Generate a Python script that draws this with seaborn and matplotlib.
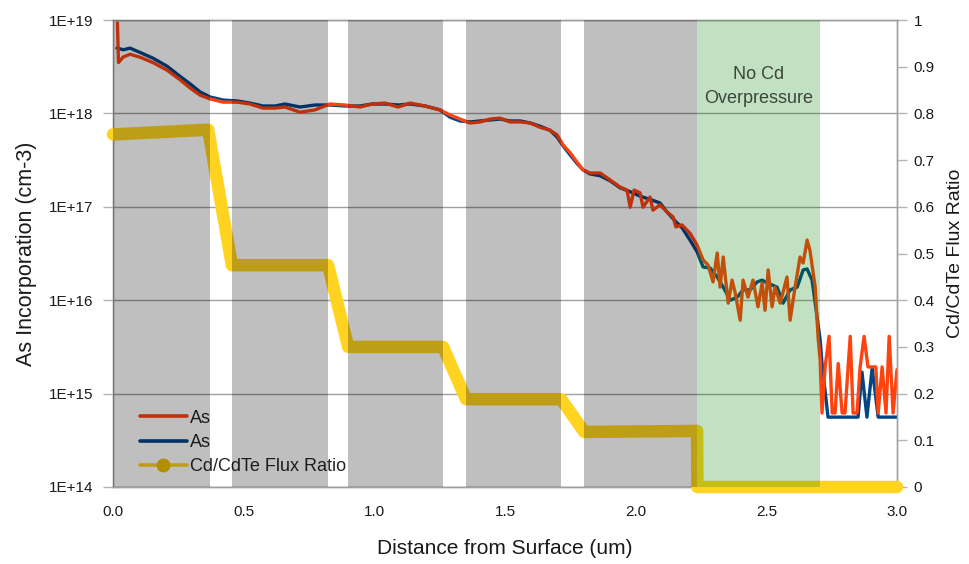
import math
import matplotlib
matplotlib.use("Agg")
import matplotlib.pyplot as plt
from matplotlib.ticker import FixedLocator, FuncFormatter, NullLocator
from matplotlib.lines import Line2D
import pandas as pd
import seaborn as sns

# ---------------- data ----------------
depth_as_orange = [0.017, 0.021, 0.038, 0.065, 0.103, 0.153, 0.207, 0.256, 0.295, 0.333,
                   0.371, 0.421, 0.475, 0.524, 0.574, 0.620, 0.658, 0.716, 0.773, 0.830,
                   0.888, 0.945, 0.991, 1.041, 1.091, 1.137, 1.194, 1.251, 1.290, 1.328,
                   1.366, 1.405, 1.443, 1.481, 1.519, 1.558, 1.596, 1.634, 1.672, 1.699,
                   1.722, 1.749, 1.776, 1.799, 1.825, 1.864, 1.902, 1.940, 1.967, 1.979,
                   1.994, 2.017, 2.028, 2.055, 2.066, 2.093, 2.120, 2.143, 2.154, 2.177,
                   2.208, 2.235, 2.258, 2.277, 2.296, 2.312, 2.323, 2.335, 2.354, 2.369,
                   2.381, 2.400, 2.411, 2.430, 2.449, 2.468, 2.484, 2.495, 2.507, 2.522,
                   2.533, 2.553, 2.579, 2.591, 2.610, 2.629, 2.641, 2.656, 2.667, 2.687,
                   2.698, 2.706, 2.713, 2.725, 2.740, 2.752, 2.763, 2.775, 2.790, 2.801,
                   2.821, 2.832, 2.847, 2.859, 2.874, 2.889, 2.905, 2.919, 2.928, 2.943,
                   2.958, 2.970, 2.985, 3.000]
as_orange = [9.3e18, 3.5e18, 4.0e18, 4.3e18, 4.0e18, 3.5e18, 2.9e18, 2.3e18, 1.87e18, 1.57e18,
             1.43e18, 1.32e18, 1.32e18, 1.26e18, 1.14e18, 1.14e18, 1.17e18, 1.03e18, 1.09e18, 1.26e18,
             1.23e18, 1.17e18, 1.26e18, 1.29e18, 1.17e18, 1.29e18, 1.20e18, 1.09e18, 9.6e17, 8.7e17,
             7.9e17, 8.1e17, 8.7e17, 8.9e17, 8.1e17, 8.1e17, 7.9e17, 7.1e17, 6.6e17, 5.9e17,
             4.6e17, 3.8e17, 3.0e17, 2.48e17, 2.30e17, 2.30e17, 1.94e17, 1.63e17, 1.51e17, 9.9e16,
             1.51e17, 1.41e17, 9.9e16, 1.27e17, 9.2e16, 1.05e17, 8.8e16, 7.8e16, 6.1e16, 6.4e16,
             5.2e16, 3.9e16, 2.7e16, 2.38e16, 1.57e16, 3.2e16, 1.38e16, 2.9e16, 9.3e15, 1.64e16,
             1.19e16, 6.1e15, 1.64e16, 1.08e16, 1.64e16, 8.5e15, 1.53e16, 7.8e15, 2.11e16, 8.5e15,
             1.38e16, 9.3e15, 1.77e16, 6.1e15, 1.38e16, 2.9e16, 2.5e16, 4.4e16, 3.4e16, 1.38e16,
             4.0e15, 2.3e15, 6.2e14, 1.93e15, 4.1e15, 6.2e14, 6.2e14, 2.1e15, 6.2e14, 6.2e14,
             4.1e15, 6.2e14, 6.2e14, 1.93e15, 4.1e15, 1.93e15, 1.93e15, 1.93e15, 6.2e14, 1.93e15,
             6.2e14, 4.1e15, 6.2e14, 1.8e15]

depth_as_blue = [0.015, 0.040, 0.065, 0.103, 0.153, 0.207, 0.256, 0.295, 0.333, 0.371,
                 0.421, 0.475, 0.524, 0.574, 0.620, 0.658, 0.716, 0.773, 0.830, 0.888,
                 0.945, 0.991, 1.041, 1.091, 1.137, 1.194, 1.251, 1.290, 1.328, 1.366,
                 1.405, 1.443, 1.481, 1.519, 1.558, 1.596, 1.634, 1.672, 1.699, 1.722,
                 1.749, 1.776, 1.799, 1.825, 1.864, 1.902, 1.940, 1.979, 2.017, 2.055,
                 2.093, 2.120, 2.154, 2.177, 2.208, 2.235, 2.258, 2.285, 2.312, 2.335,
                 2.362, 2.389, 2.411, 2.438, 2.465, 2.484, 2.503, 2.541, 2.564, 2.591,
                 2.618, 2.641, 2.656, 2.675, 2.687, 2.706, 2.713, 2.736, 2.851, 2.866,
                 2.885, 2.905, 2.928, 3.000]
as_blue = [5.0e18, 4.8e18, 5.0e18, 4.5e18, 3.9e18, 3.2e18, 2.5e18, 2.07e18, 1.7e18, 1.5e18,
           1.39e18, 1.36e18, 1.29e18, 1.20e18, 1.20e18, 1.26e18, 1.17e18, 1.23e18, 1.23e18, 1.20e18,
           1.20e18, 1.26e18, 1.26e18, 1.23e18, 1.26e18, 1.20e18, 1.09e18, 9.1e17, 8.3e17, 8.1e17,
           8.3e17, 8.5e17, 8.7e17, 8.3e17, 8.3e17, 7.9e17, 7.3e17, 6.6e17, 5.6e17, 4.5e17,
           3.6e17, 2.9e17, 2.48e17, 2.25e17, 2.15e17, 1.9e17, 1.6e17, 1.45e17, 1.3e17, 1.2e17,
           1.1e17, 8.8e16, 6.9e16, 6.0e16, 4.4e16, 3.3e16, 2.27e16, 2.21e16, 1.77e16, 1.38e16,
           1.0e16, 1.08e16, 1.29e16, 1.29e16, 1.57e16, 1.64e16, 1.53e16, 1.38e16, 9.3e15, 1.29e16,
           1.38e16, 2.11e16, 2.16e16, 1.64e16, 9.3e15, 3.75e15, 2.1e15, 5.6e14, 5.6e14, 1.7e15,
           5.6e14, 1.88e15, 5.6e14, 5.6e14]

depth_ratio = [0.0, 0.364, 0.455, 0.823, 0.900, 1.263, 1.351, 1.715, 1.803, 2.235, 2.236, 3.0]
flux_ratio = [0.755, 0.765, 0.475, 0.475, 0.300, 0.300, 0.188, 0.188, 0.118, 0.120, 0.0, 0.0]

gray_band_start = [0.0, 0.455, 0.900, 1.351, 1.803]
gray_band_end = [0.371, 0.823, 1.263, 1.715, 2.235]
green_band_start = 2.235
green_band_end = 2.706

y_left_ticks = [1e14, 1e15, 1e16, 1e17, 1e18, 1e19]
y_right_ticks = [0.0, 0.1, 0.2, 0.3, 0.4, 0.5, 0.6, 0.7, 0.8, 0.9, 1.0]
x_ticks = [0.0, 0.5, 1.0, 1.5, 2.0, 2.5, 3.0]

# ---------------- style ----------------
sns.set_style("white")
plt.rcParams['font.family'] = ['Liberation Sans', 'DejaVu Sans']

c_orange = "#ff420e"
c_blue = "#004586"
c_yellow = "#ffd320"
c_axis = "#b3b3b3"
c_grid = "#a0a0a0"
c_text = "#1a1a1a"

fig = plt.figure(figsize=(9.69, 5.64), dpi=100)
ax = fig.add_axes([113 / 969, 1 - 487 / 564, (897 - 113) / 969, (487 - 20) / 564])

df_b = pd.DataFrame({"depth": depth_as_blue, "As": as_blue})
df_o = pd.DataFrame({"depth": depth_as_orange, "As": as_orange})
sns.lineplot(data=df_b, x="depth", y="As", ax=ax, color=c_blue, linewidth=2.4,
             sort=False, estimator=None, zorder=3)
sns.lineplot(data=df_o, x="depth", y="As", ax=ax, color=c_orange, linewidth=2.4,
             sort=False, estimator=None, zorder=4)

ax.set_yscale("log")
ax.set_ylim(1e14, 1e19)
ax.set_xlim(0, 3.0)
ax.yaxis.set_major_locator(FixedLocator(y_left_ticks))
ax.yaxis.set_minor_locator(NullLocator())
ax.yaxis.set_major_formatter(FuncFormatter(lambda v, p: "1E+%d" % round(math.log10(v))))
ax.xaxis.set_major_locator(FixedLocator(x_ticks))
ax.xaxis.set_major_formatter(FuncFormatter(lambda v, p: "%.1f" % v))
ax.grid(axis="y", color=c_grid, linewidth=1.0, zorder=1)
ax.set_axisbelow(True)
ax.set_xlabel("Distance from Surface (um)", fontsize=15, labelpad=14, color=c_text)
ax.set_ylabel("As Incorporation (cm-3)", fontsize=15.5, labelpad=9, color=c_text)
ax.tick_params(axis="y", which="major", length=7, width=1, color=c_axis,
               labelsize=11, labelcolor=c_text, direction="out", pad=7)
ax.tick_params(axis="x", which="major", length=5, width=1, color=c_axis,
               labelsize=11, labelcolor=c_text, direction="out", pad=8)
for s in ax.spines.values():
    s.set_color(c_grid)
    s.set_linewidth(1.0)

ax2 = ax.twinx()
df_r = pd.DataFrame({"depth": depth_ratio, "ratio": flux_ratio})
sns.lineplot(data=df_r, x="depth", y="ratio", ax=ax2, color=c_yellow, linewidth=9,
             sort=False, estimator=None, zorder=3, solid_capstyle="round",
             solid_joinstyle="round", clip_on=False)
ax2.set_ylim(0, 1)
ax2.set_xlim(0, 3.0)
ax2.yaxis.set_major_locator(FixedLocator(y_right_ticks))
ax2.yaxis.set_major_formatter(FuncFormatter(lambda v, p: ("%.1f" % v).rstrip("0").rstrip(".")))
ax2.set_ylabel("Cd/CdTe Flux Ratio", fontsize=14, labelpad=9, color=c_text)
ax2.set_xlabel("")
ax2.tick_params(axis="y", which="major", length=7, width=1, color=c_axis,
                labelsize=11, labelcolor=c_text, direction="out", pad=5)
for s in ax2.spines.values():
    s.set_color(c_grid)
    s.set_linewidth(1.0)

# translucent overlays on top of the data
for a, b in zip(gray_band_start, gray_band_end):
    ax2.axvspan(a, b, color="black", alpha=0.25, linewidth=0, zorder=10)
ax2.axvspan(green_band_start, green_band_end, color="#008000", alpha=0.24, linewidth=0, zorder=10)
ax2.text((green_band_start + green_band_end) / 2, 0.858, "No Cd\nOverpressure",
         ha="center", va="center", fontsize=13, color="#3c463c", linespacing=1.5,
         zorder=11)

handles = [Line2D([], [], color=c_orange, linewidth=2.6),
           Line2D([], [], color=c_blue, linewidth=2.6),
           Line2D([], [], color="#ffd320", linewidth=2.6, marker="o", markersize=9,
                  markerfacecolor="#f0c000", markeredgecolor="#f0c000")]
leg = ax.legend(handles, ["As", "As", "Cd/CdTe Flux Ratio"], loc="lower left",
                bbox_to_anchor=(0.025, 0.01), frameon=False, fontsize=13,
                handlelength=2.6, handletextpad=0.2, labelspacing=0.4, borderaxespad=0)
leg.set_zorder(5)

fig.savefig("out.png", dpi=100)
